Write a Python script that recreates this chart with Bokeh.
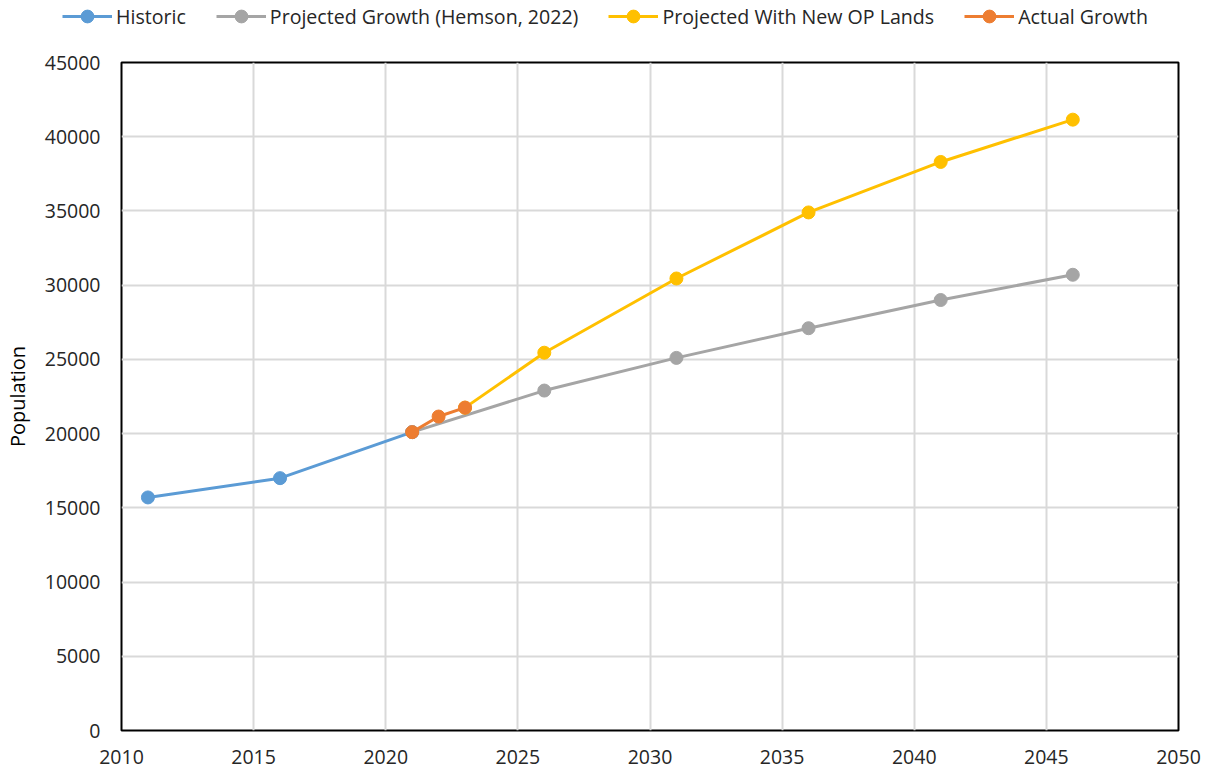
from bokeh.plotting import figure
from bokeh.models import Range1d, Legend, LegendItem, FixedTicker
from bokeh.layouts import column
from bokeh.embed import file_html
from bokeh.resources import INLINE

historic_years = [2011, 2016, 2021]
historic_pop = [15700, 17000, 20100]

hemson_years = [2021, 2026, 2031, 2036, 2041, 2046]
hemson_pop = [20100, 22900, 25100, 27100, 29000, 30700]

op_years = [2023, 2026, 2031, 2036, 2041, 2046]
op_pop = [21750, 25450, 30450, 34900, 38300, 41150]

actual_years = [2021, 2022, 2023]
actual_pop = [20100, 21150, 21750]

x_ticks = list(range(2010, 2051, 5))
y_ticks = list(range(0, 45001, 5000))

FONT = "Open Sans"
TXT = "#262626"
LEG_H = 30

p = figure(width=1215, height=773 - LEG_H, output_backend="svg", toolbar_location=None,
           x_range=Range1d(2010, 2050), y_range=Range1d(0, 45000),
           min_border_left=118, min_border_right=37, min_border_top=62 - LEG_H,
           min_border_bottom=43)

p.xgrid.grid_line_color = "#d9d9d9"
p.ygrid.grid_line_color = "#d9d9d9"
p.xgrid.grid_line_width = 2
p.ygrid.grid_line_width = 2
p.outline_line_color = "black"
p.outline_line_width = 2
p.outline_line_alpha = 1

for ax in (p.xaxis[0], p.yaxis[0]):
    ax.axis_line_color = None
    ax.major_tick_line_color = None
    ax.minor_tick_line_color = None
    ax.major_tick_out = 0
    ax.major_tick_in = 0
    ax.minor_tick_out = 0
    ax.minor_tick_in = 0
    ax.major_label_text_font = FONT
    ax.major_label_text_font_size = "19.5px"
    ax.major_label_text_color = TXT

p.xaxis.ticker = FixedTicker(ticks=x_ticks)
p.yaxis.ticker = FixedTicker(ticks=y_ticks)
p.xaxis.major_label_standoff = 19
p.yaxis.major_label_standoff = 21
p.yaxis.axis_label = "Population"
p.yaxis.axis_label_text_font = FONT
p.yaxis.axis_label_text_font_size = "20px"
p.yaxis.axis_label_text_font_style = "normal"
p.yaxis.axis_label_text_color = "black"
p.yaxis.axis_label_standoff = 11

series = [
    ("Historic", historic_years, historic_pop, "#5B9BD5"),
    ("Projected Growth (Hemson, 2022)", hemson_years, hemson_pop, "#A5A5A5"),
    ("Projected With New OP Lands", op_years, op_pop, "#FFC000"),
    ("Actual Growth", actual_years, actual_pop, "#ED7D31"),
]

# legend strip figure (legend sits above the plot frame, outside its clip area)
lf = figure(width=1215, height=LEG_H, output_backend="svg", toolbar_location=None,
            x_range=Range1d(0, 1), y_range=Range1d(0, 1), min_border=0,
            min_border_left=0, min_border_right=0, min_border_top=0, min_border_bottom=0,
            x_axis_type=None, y_axis_type=None)
lf.outline_line_color = None
lf.xgrid.visible = False
lf.ygrid.visible = False

for f in (lf, p):
    if "frame_align" in f.properties():
        f.frame_align = False

items = []
for label, xs, ys, col in series:
    p.line(xs, ys, line_color=col, line_width=3)
    p.scatter(xs, ys, size=13, fill_color=col, line_color=col)
    lr = lf.line([-5, -4], [-5, -4], line_color=col, line_width=3)
    cr = lf.scatter([-5], [-5], size=13, fill_color=col, line_color=col)
    items.append(LegendItem(label=label, renderers=[lr, cr]))

legend = Legend(items=items, orientation="horizontal", location=(62, -2),
                label_text_font=FONT, label_text_font_size="19.6px", label_text_color=TXT,
                glyph_width=50, glyph_height=32, label_standoff=4, spacing=30,
                padding=0, margin=0, border_line_color=None, background_fill_alpha=0)
lf.add_layout(legend, "center")

layout = column(lf, p, spacing=0)
open("out.html", "w").write(file_html(layout, INLINE))
